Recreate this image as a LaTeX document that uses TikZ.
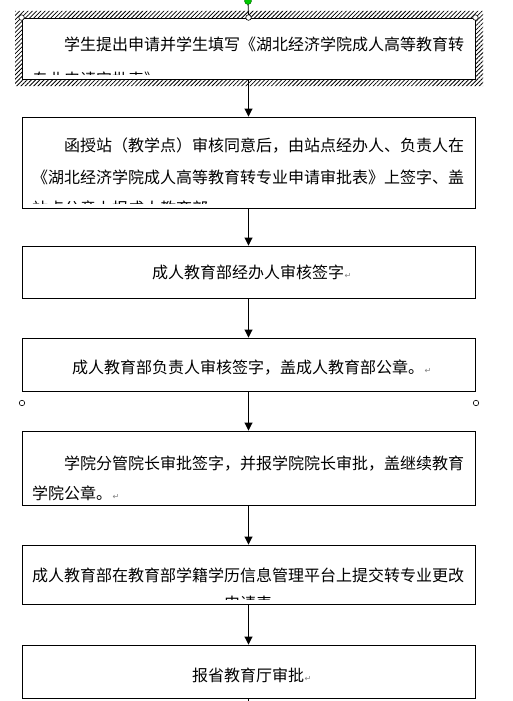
\documentclass[tikz,border=0pt]{standalone}
\usepackage{fontspec}
\newfontfamily\cjk{Noto Sans CJK SC}
\newfontfamily\dejavu{DejaVu Sans}
\usetikzlibrary{arrows.meta,patterns.meta}
\definecolor{handlegreen}{RGB}{0,200,0}
\begin{document}
\begin{tikzpicture}[x=1pt,y=-1pt,
  box/.style={draw=black,line width=0.9pt,minimum width=453pt,inner sep=0pt,fill=white},
  txt/.style={font=\cjk\fontsize{16pt}{16pt}\selectfont,inner sep=0pt,anchor=base west},
  ret/.style={font=\dejavu\fontsize{8pt}{8pt}\selectfont,text=gray,inner sep=0pt,anchor=base west},
  arr/.style={draw=black,line width=0.9pt,-{Triangle[width=8pt,length=8pt]}},
  plain/.style={draw=black,line width=0.9pt},
  handle/.style={circle,draw=black,fill=white,line width=0.6pt,inner sep=0pt,minimum size=5.5pt}]
\useasboundingbox (0,0) rectangle (512,701);
\fill[white] (0,0) rectangle (512,701);

% hatched selection frame of first box
\fill[pattern={Lines[angle=45,distance=3pt,line width=0.8pt]},even odd rule]
  (15,11) rectangle (483,86) (22,18) rectangle (475,79);

% boxes
\node[box,minimum height=61pt] (b1) at (248.5,48.5) {};
\node[box,minimum height=91pt] (b2) at (248.5,162.5) {};
\node[box,minimum height=52pt] (b3) at (248.5,272) {};
\node[box,minimum height=53pt] (b4) at (248.5,364.5) {};
\node[box,minimum height=74pt] (b5) at (248.5,468) {};
\node[box,minimum height=59pt] (b6) at (248.5,574.5) {};
\node[box,minimum height=53pt] (b7) at (248.5,671.5) {};

% texts
\begin{scope}
  \clip (26,22) rectangle (471,74);
  \node[txt] (t1a) at (64,51) {学生提出申请并学生填写《湖北经济学院成人高等教育转};
  \node[txt] (t1b) at (32,85) {专业申请审批表》};
\end{scope}
\begin{scope}
  \clip (26,121) rectangle (471,203);
  \node[txt] (t2a) at (64,151) {函授站（教学点）审核同意后，由站点经办人、负责人在};
  \node[txt] (t2b) at (32,183) {《湖北经济学院成人高等教育转专业申请审批表》上签字、盖};
  \node[txt] (t2c) at (32,214) {站点公章上报成人教育部};
\end{scope}
\node[txt] (t3) at (152,278) {成人教育部经办人审核签字};
\node[ret] (r3) at (t3.base east) {↵};
\node[txt] (t4) at (72,373) {成人教育部负责人审核签字，盖成人教育部公章。};
\node[ret] (r4) at (t4.base east) {↵};
\node[txt] (t5a) at (64,469) {学院分管院长审批签字，并报学院院长审批，盖继续教育};
\node[txt] (t5b) at (32,499) {学院公章。};
\node[ret] (r5) at (t5b.base east) {↵};
\begin{scope}
  \clip (26,549) rectangle (471,599);
  \node[txt] (t6a) at (32,581) {成人教育部在教育部学籍学历信息管理平台上提交转专业更改};
  \node[txt] (t6b) at (224,609) {申请表};
\end{scope}
\node[txt] (t7) at (192,681) {报省教育厅审批};
\node[ret] (r7) at (t7.base east) {↵};

% connectors
\draw[arr] (b1.south) -- (b2.north);
\draw[arr] (b2.south) -- (b3.north);
\draw[arr] (b3.south) -- (b4.north);
\draw[arr] (b4.south) -- (b5.north);
\draw[arr] (b5.south) -- (b6.north);
\draw[arr] (b6.south) -- (b7.north);
\coordinate (tail) at (248.5,706);
\draw[plain] (b7.south) -- (tail);

% selection handles
\coordinate (rot) at (248,1);
\draw[black,line width=0.8pt] (rot) -- (b1.north);
\node[circle,draw=black!60!green,fill=handlegreen,inner sep=0pt,minimum size=7pt] (g) at (rot) {};
\node[handle] (h1) at (b1.north west) {};
\node[handle] (h2) at (b1.north) {};
\node[handle] (h3) at (b1.north east) {};
\node[handle] (h4) at (22,403) {};
\node[handle] (h5) at (476,403) {};
\end{tikzpicture}
\end{document}
